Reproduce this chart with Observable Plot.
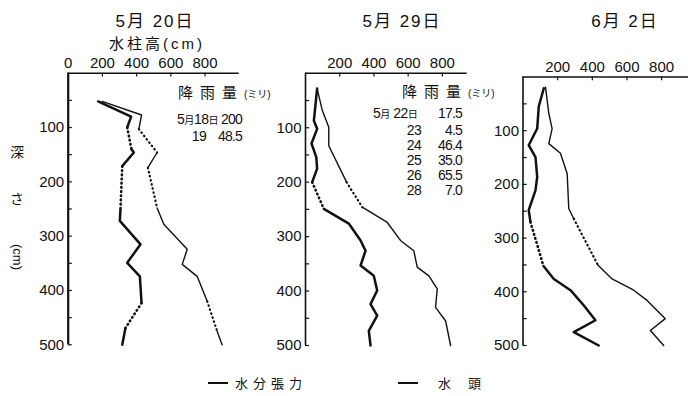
<!DOCTYPE html>
<html lang="ja">
<head>
<meta charset="utf-8">
<script src="https://cdn.jsdelivr.net/npm/d3@7"></script>
<script src="https://cdn.jsdelivr.net/npm/@observablehq/plot@0.6"></script>
<style>
html,body{margin:0;padding:0;background:#fff;}
#chart{position:relative;width:688px;height:396px;overflow:hidden;background:#fff;color:#111;
  font-family:"Liberation Sans","Noto Sans CJK JP",sans-serif;}
#chart svg{position:absolute;top:0;}
.lbl{position:absolute;white-space:nowrap;line-height:1;}
.sm{font-size:0.72em;}
</style>
</head>
<body>
<div id="chart"></div>
<script>
// ---------------- data ----------------
const panelDates = ["5月 20日", "5月 29日", "6月 2日"];
const xAxisTitle = "水柱高(cm)";
const yAxisTitle = ["深", "さ", "(cm)"];
const legendLabels = ["水分張力", "水頭"];
const depthTicks = [100, 200, 300, 400, 500];
const depthMinorTicks = [50, 150, 250, 350, 450];
const xTicksFirst = [0, 200, 400, 600, 800];
const xTicksOther = [200, 400, 600, 800];

// rainfall tables (mm)
const rainTitle = "降雨量";
const rainUnit = "(ミリ)";
const rainMonth = 5;
const rain1Days = [18, 19];
const rain1Amounts = [200, 48.5];
const rain2Days = [22, 23, 24, 25, 26, 28];
const rain2Amounts = [17.5, 4.5, 46.4, 35.0, 65.5, 7.0];

// 5月20日 — depth (cm) and water column height (cm); estimated: 1 = dotted segment to next point
const depth0520Tension = [52, 80, 100, 140, 146, 171, 248, 272, 315, 349, 374, 423, 469, 500];
const value0520Tension = [175, 368, 345, 370, 384, 316, 306, 302, 423, 345, 419, 429, 335, 316];
const est0520Tension   = [0, 0, 1, 0, 0, 1, 0, 0, 0, 0, 0, 1, 0];
const depth0520Head = [52, 77, 103, 146, 174, 248, 278, 324, 352, 374, 420, 475, 500];
const value0520Head = [199, 429, 413, 520, 466, 520, 559, 696, 667, 754, 813, 871, 900];
const est0520Head   = [0, 0, 1, 0, 1, 0, 0, 0, 0, 0, 1, 0];

// 5月29日
const depth0529Tension = [28, 87, 102, 129, 154, 175, 200, 249, 276, 307, 326, 353, 372, 399, 424, 445, 473, 500];
const value0529Tension = [68, 49, 68, 35, 63, 68, 39, 107, 253, 322, 351, 322, 399, 419, 380, 419, 370, 380];
const est0529Tension   = [0, 0, 0, 0, 0, 0, 1, 0, 0, 0, 0, 0, 0, 0, 0, 0, 0];
const depth0529Head = [28, 68, 99, 133, 200, 246, 274, 307, 326, 356, 372, 396, 430, 455, 500];
const value0529Head = [68, 98, 136, 136, 240, 332, 478, 555, 633, 653, 721, 770, 760, 819, 848];
const est0529Head   = [0, 0, 0, 0, 1, 0, 0, 0, 0, 0, 0, 0, 0, 0];

// 6月2日
const depth0602Tension = [21, 55, 96, 127, 149, 186, 211, 248, 270, 352, 376, 397, 425, 453, 475, 500];
const value0602Tension = [120, 91, 82, 33, 72, 82, 72, 33, 43, 118, 178, 274, 350, 418, 293, 437];
const est0602Tension   = [0, 0, 0, 0, 0, 0, 0, 0, 1, 0, 0, 0, 0, 0, 0];
const depth0602Head = [19, 68, 96, 124, 142, 180, 245, 264, 350, 376, 397, 416, 450, 472, 500];
const value0602Head = [130, 149, 168, 149, 216, 255, 264, 293, 432, 514, 639, 716, 821, 735, 812];
const est0602Head   = [0, 0, 0, 0, 0, 0, 0, 1, 0, 0, 0, 0, 0, 0];

// ---------------- layout ----------------
const W = 688, H = 396;
const layout = [
  {left: 0,   width: 250, ml: 67.7, pw: 171,   xmax: 1000, y0: 72.7, y500: 344.3, axisW: 2.2, titleX: 155},
  {left: 250, width: 230, ml: 55,   pw: 161.7, xmax: 945,  y0: 72.8, y500: 345,   axisW: 1.6, titleX: 402},
  {left: 480, width: 208, ml: 42.5, pw: 165.5, xmax: 955,  y0: 76.5, y500: 345,   axisW: 1.6, titleX: 625}
];
const ink = "#111";

function runs(depth, value, est) {
  const rows = [];
  let run = 0, cur = null;
  for (let i = 0; i < est.length; i++) {
    if (cur === null || cur !== est[i]) {
      run++; cur = est[i];
      rows.push({d: depth[i], v: value[i], run, est: est[i]});
    }
    rows.push({d: depth[i + 1], v: value[i + 1], run, est: est[i]});
  }
  return rows;
}

function lineMarks(rows, thick) {
  const sw = thick ? 2.5 : 1.4;
  return [
    Plot.line(rows.filter(r => !r.est), {x: "v", y: "d", z: "run", stroke: ink, strokeWidth: sw, strokeLinejoin: "round", strokeLinecap: "round"}),
    Plot.line(rows.filter(r => r.est), {x: "v", y: "d", z: "run", stroke: ink, strokeWidth: thick ? 2.6 : 2.2, strokeLinecap: "round", strokeDasharray: "0.6,3.6"})
  ];
}

const panelSeries = [
  [runs(depth0520Tension, value0520Tension, est0520Tension), runs(depth0520Head, value0520Head, est0520Head)],
  [runs(depth0529Tension, value0529Tension, est0529Tension), runs(depth0529Head, value0529Head, est0529Head)],
  [runs(depth0602Tension, value0602Tension, est0602Tension), runs(depth0602Head, value0602Head, est0602Head)]
];

const chart = document.getElementById("chart");

layout.forEach((L, i) => {
  const ticks = i === 0 ? xTicksFirst : xTicksOther;
  const [tension, head] = panelSeries[i];
  const svg = Plot.plot({
    width: L.width, height: H,
    marginLeft: L.ml, marginRight: L.width - L.ml - L.pw,
    marginTop: L.y0, marginBottom: H - L.y500,
    style: {background: "transparent", fontFamily: "Liberation Sans, sans-serif", fontSize: "15px", color: ink, overflow: "visible"},
    x: {domain: [0, L.xmax], label: null},
    y: {domain: [0, 500], reverse: true, label: null},
    marks: [
      Plot.ruleY([0], {stroke: ink, strokeWidth: 1.4}),
      Plot.ruleX([0], {stroke: ink, strokeWidth: L.axisW}),
      Plot.ruleX(ticks, {x: d => d, y1: () => 0, y2: () => 7, stroke: ink, strokeWidth: 1.2}),
      Plot.ruleY(depthTicks.concat(depthMinorTicks), {y: d => d, x1: () => 0, x2: () => 24, stroke: ink, strokeWidth: 1.2}),
      Plot.axisX(ticks, {anchor: "top", tickSize: 0, tickPadding: 5, label: null, fontSize: 15}),
      Plot.axisY(depthTicks, {anchor: "left", tickSize: 0, tickPadding: 4, label: null, fontSize: 15}),
      ...lineMarks(tension, true),
      ...lineMarks(head, false)
    ]
  });
  svg.style.left = L.left + "px";
  chart.appendChild(svg);
});

// ---------------- text overlay ----------------
function text(html, x, y, {size = 15, anchor = "middle", ls = 0, vertical = false} = {}) {
  const el = document.createElement("div");
  el.className = "lbl";
  el.innerHTML = html;
  el.style.left = x + "px";
  el.style.top = y + "px";
  el.style.fontSize = size + "px";
  el.style.letterSpacing = ls + "px";
  if (vertical) el.style.writingMode = "vertical-rl";
  const tx = anchor === "middle" ? "-50%" : anchor === "end" ? "-100%" : "0";
  el.style.transform = `translate(${tx},-50%)`;
  chart.appendChild(el);
  return el;
}

// titles
panelDates.forEach((t, i) => text(t, layout[i].titleX, 21, {size: 17, ls: 2}));
text(xAxisTitle, 157, 43, {size: 15, ls: 3});

// y axis title (vertical)
text(yAxisTitle[0], 17, 152, {size: 14});
text(yAxisTitle[1], 17, 199, {size: 14});
text(yAxisTitle[2], 17, 257, {size: 13, vertical: true});

// rainfall table 1
text(`${rainTitle}<span style="font-size:10px;letter-spacing:0">${rainUnit}</span>`, 178, 92, {size: 15, anchor: "start", ls: 7});
rain1Days.forEach((d, j) => {
  const y = [119, 136][j];
  if (j === 0) text(`${rainMonth}<span class="sm">月</span>${d}<span class="sm">日</span>`, 177, y, {size: 14, anchor: "start", ls: -0.5});
  else text(String(d), 199, y, {size: 14, ls: -0.5});
  text(String(rain1Amounts[j]), 242, y, {size: 14, anchor: "end", ls: -0.8});
});

// rainfall table 2
text(`${rainTitle}<span style="font-size:10px;letter-spacing:0">${rainUnit}</span>`, 402, 91, {size: 15, anchor: "start", ls: 7});
const rain2Y = [113, 130, 145, 160, 175, 190];
rain2Days.forEach((d, j) => {
  const y = rain2Y[j];
  if (j === 0) text(`${rainMonth}<span class="sm">月</span> ${d}<span class="sm">日</span>`, 373, y, {size: 14, anchor: "start", ls: -0.5});
  else text(String(d), 414, y, {size: 14, ls: -0.5});
  text(rain2Amounts[j].toFixed(1), 462, y, {size: 14, anchor: "end", ls: -0.8});
});

// legend
function swatch(x, w, h) {
  const el = document.createElement("div");
  el.style.cssText = `position:absolute;left:${x}px;top:${383 - h / 2}px;width:${w}px;height:${h}px;background:${ink};`;
  chart.appendChild(el);
}
swatch(208, 20, 2.2);
text(legendLabels[0], 235, 383, {size: 13, anchor: "start", ls: 5});
swatch(398, 20, 1.3);
text(legendLabels[1], 438, 383, {size: 13, anchor: "start", ls: 17});
</script>
</body>
</html>
